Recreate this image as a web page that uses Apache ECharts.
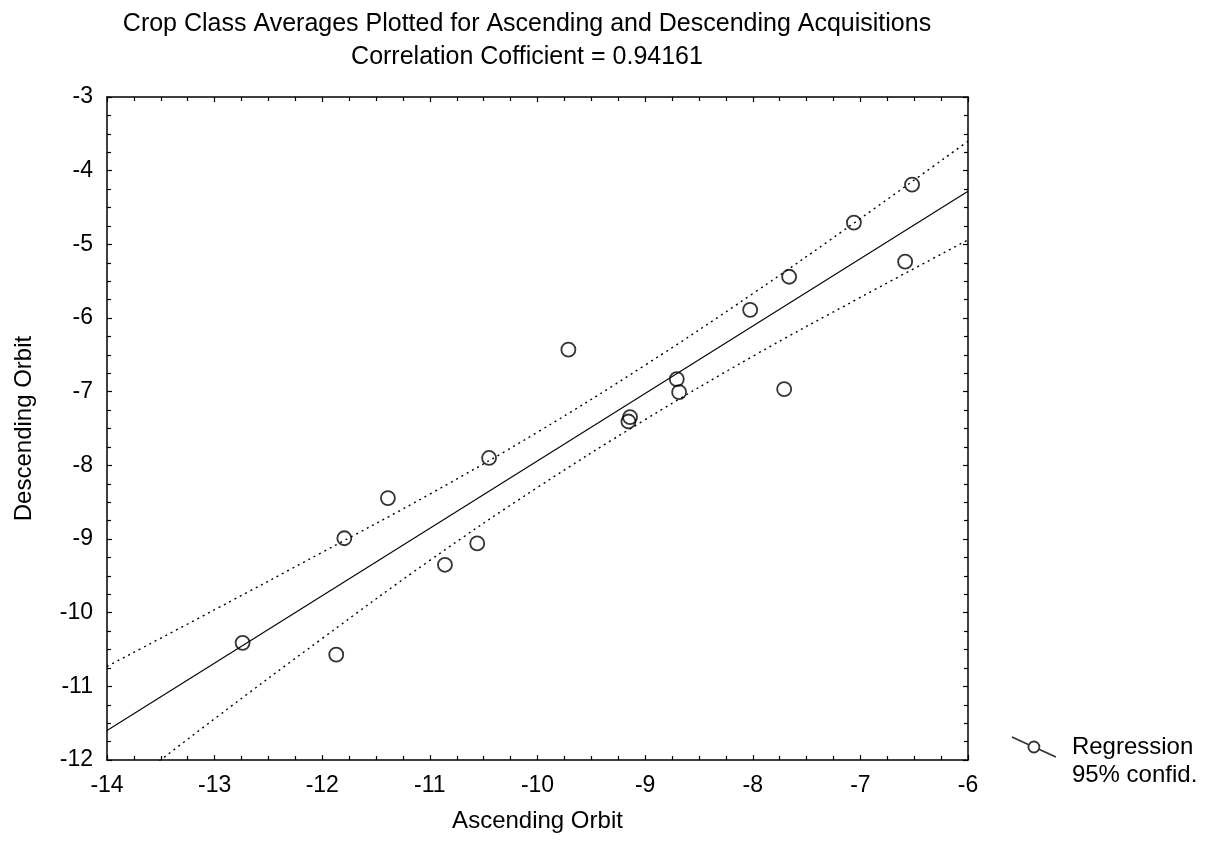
<!DOCTYPE html>
<html>
<head>
<meta charset="utf-8">
<script src="https://cdn.jsdelivr.net/npm/echarts@6/dist/echarts.min.js"></script>
<style>
html,body{margin:0;padding:0;background:#fff;}
#chart{width:1210px;height:846px;}
</style>
</head>
<body>
<div id="chart"></div>
<script>
// Data points (Ascending, Descending)
var ascending = [-12.74, -11.87, -11.795, -11.39, -10.86, -10.56, -10.45, -9.713, -9.155, -9.14, -8.706, -8.684, -8.024, -7.708, -7.662, -7.06, -6.584, -6.52];
var descending = [-10.41, -10.57, -8.99, -8.445, -9.35, -9.06, -7.90, -6.43, -7.405, -7.346, -6.83, -7.007, -5.89, -6.966, -5.44, -4.705, -5.235, -4.19];
// Regression line endpoints
var regX = [-14, -6];
var regY = [-11.60, -4.28];
// 95% confidence band
var bandX = [-14, -13, -12, -11, -10, -9, -8, -7, -6];
var bandUpper = [-10.73, -9.96, -9.18, -8.39, -7.55, -6.64, -5.67, -4.65, -3.60];
var bandLower = [-12.56, -11.44, -10.35, -9.29, -8.30, -7.38, -6.52, -5.72, -4.94];
// Axis ticks
var xTicks = [-14, -13, -12, -11, -10, -9, -8, -7, -6];
var yTicks = [-12, -11, -10, -9, -8, -7, -6, -5, -4, -3];

function zip(a, b) { return a.map(function (v, i) { return [v, b[i]]; }); }

var FONT = 'Liberation Sans, Arial, sans-serif';
var chart = echarts.init(document.getElementById('chart'), null, {renderer: 'canvas'});

var axisCommon = {
  type: 'value',
  interval: 1,
  axisLine: {show: true, onZero: false, lineStyle: {color: '#000', width: 1.5}},
  axisTick: {show: true, inside: true, length: 5, lineStyle: {color: '#000', width: 1.2}},
  minorTick: {show: true, splitNumber: 4, length: 4, lineStyle: {color: '#000', width: 1.2}},
  splitLine: {show: false},
  minorSplitLine: {show: false}
};

var option = {
  backgroundColor: '#fff',
  animation: false,
  title: [
    {text: 'Crop Class Averages Plotted for Ascending and Descending Acquisitions', left: 522, top: 7, textAlign: 'center',
     textStyle: {fontFamily: FONT, fontSize: 25, fontWeight: 'normal', color: '#000'}},
    {text: 'Correlation Cofficient = 0.94161', left: 522, top: 40, textAlign: 'center',
     textStyle: {fontFamily: FONT, fontSize: 25, fontWeight: 'normal', color: '#000'}}
  ],
  grid: {left: 107, right: 242, top: 97, bottom: 86, containLabel: false},
  xAxis: [
    Object.assign({}, axisCommon, {
      min: xTicks[0], max: xTicks[xTicks.length - 1], position: 'bottom',
      name: 'Ascending Orbit', nameLocation: 'middle', nameGap: 49,
      nameTextStyle: {fontFamily: FONT, fontSize: 24, color: '#000'},
      axisLabel: {show: true, margin: 14, fontFamily: FONT, fontSize: 23, color: '#000'}
    }),
    Object.assign({}, axisCommon, {
      min: xTicks[0], max: xTicks[xTicks.length - 1], position: 'top',
      axisLabel: {show: false}
    })
  ],
  yAxis: [
    Object.assign({}, axisCommon, {
      min: yTicks[0], max: yTicks[yTicks.length - 1], position: 'left',
      name: 'Descending Orbit', nameLocation: 'middle', nameGap: 71, nameRotate: 90,
      nameTextStyle: {fontFamily: FONT, fontSize: 24, color: '#000'},
      axisLabel: {show: true, margin: 14, fontFamily: FONT, fontSize: 23, color: '#000'}
    }),
    Object.assign({}, axisCommon, {
      min: yTicks[0], max: yTicks[yTicks.length - 1], position: 'right',
      axisLabel: {show: false}
    })
  ],
  legend: {
    orient: 'vertical', left: 1006, top: 730,
    itemWidth: 44, itemHeight: 20, itemGap: 4,
    textStyle: {fontFamily: FONT, fontSize: 24, color: '#000', padding: [0, 0, 0, 11]},
    data: [
      {name: 'Regression',
       icon: 'path://M0,0L16.4,7.45M27.6,12.55L44,20M27.5,10A5.5,5.5,0,1,1,16.5,10A5.5,5.5,0,1,1,27.5,10Z',
       itemStyle: {color: '#fff', borderColor: '#000', borderWidth: 1.8}},
      {name: '95% confid.', icon: 'rect', itemStyle: {color: 'rgba(0,0,0,0)', borderWidth: 0, opacity: 0}}
    ]
  },
  series: [
    {
      name: 'Regression line', type: 'line', data: zip(regX, regY),
      showSymbol: false, symbol: 'none', lineStyle: {color: '#000', width: 1.1}, z: 2
    },
    {
      name: '95% confid.', type: 'line', data: zip(bandX, bandUpper), smooth: 0.4,
      showSymbol: false, symbol: 'none', lineStyle: {color: '#000', width: 1.4, type: [2, 4]}, z: 2
    },
    {
      name: '95% confid.', type: 'line', data: zip(bandX, bandLower), smooth: 0.4,
      showSymbol: false, symbol: 'none', lineStyle: {color: '#000', width: 1.4, type: [2, 4]}, z: 2
    },
    {
      name: 'Regression', type: 'scatter', data: zip(ascending, descending),
      symbol: 'circle', symbolSize: 14,
      itemStyle: {color: 'rgba(255,255,255,0)', borderColor: '#000', borderWidth: 1.8}, z: 3
    }
  ]
};
chart.setOption(option);
</script>
</body>
</html>
